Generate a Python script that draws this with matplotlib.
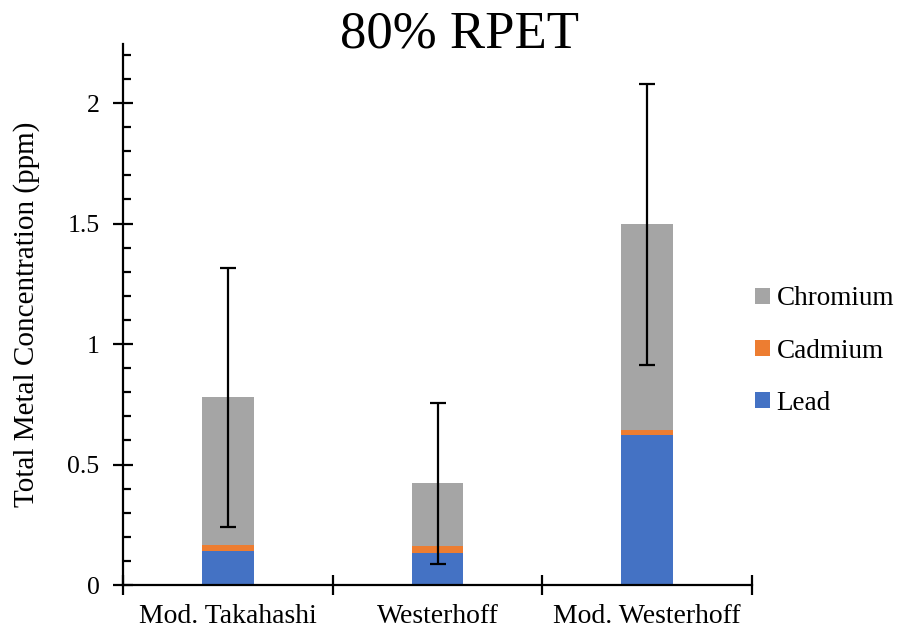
import matplotlib
matplotlib.use("Agg")
import matplotlib.pyplot as plt
import numpy as np
from matplotlib.ticker import MultipleLocator, FixedLocator

plt.rcParams['font.family'] = ['Liberation Serif', 'DejaVu Serif']

categories = ["Mod. Takahashi", "Westerhoff", "Mod. Westerhoff"]
lead = [0.142, 0.134, 0.622]
cadmium = [0.024, 0.026, 0.021]
chromium = [0.613, 0.262, 0.854]
error = [0.537, 0.333, 0.583]
title = "80% RPET"
ylabel = "Total Metal Concentration (ppm)"

c_lead = "#4472C4"
c_cd = "#ED7D31"
c_cr = "#A5A5A5"

fig = plt.figure(figsize=(9.02, 6.31), dpi=100)
ax = fig.add_axes([123/902, 1-585/631, (752-123)/902, (585-44)/631])

x = np.arange(len(categories))
lead_a = np.array(lead)
cd_a = np.array(cadmium)
cr_a = np.array(chromium)
w = 0.245
b1 = ax.bar(x, lead_a, w, color=c_lead, label="Lead", zorder=2)
b2 = ax.bar(x, cd_a, w, bottom=lead_a, color=c_cd, label="Cadmium", zorder=2)
b3 = ax.bar(x, cr_a, w, bottom=lead_a+cd_a, color=c_cr, label="Chromium", zorder=2)
total = lead_a + cd_a + cr_a
ax.errorbar(x, total, yerr=error, fmt='none', ecolor='black', elinewidth=1.6,
            capsize=5.5, capthick=1.6, zorder=3)

ax.set_xlim(-0.5, 2.5)
ax.set_ylim(0, 2.245)
for s in ['top', 'right']:
    ax.spines[s].set_visible(False)
for s in ['left', 'bottom']:
    ax.spines[s].set_linewidth(1.6)

ax.set_xticks(x)
ax.set_xticklabels(categories, fontsize=20)
ax.xaxis.set_minor_locator(FixedLocator([-0.5, 0.5, 1.5, 2.5]))
ax.tick_params(axis='x', which='major', direction='in', length=5, width=1.6, pad=14)
ax.tick_params(axis='x', which='minor', direction='inout', length=14, width=1.6)

yt = [0, 0.5, 1, 1.5, 2]
ax.set_yticks(yt)
ax.set_yticklabels(["0", "0.5", "1", "1.5", "2"], fontsize=18.5)
ax.yaxis.set_minor_locator(MultipleLocator(0.1))
ax.tick_params(axis='y', which='major', direction='inout', length=14, width=1.6, pad=10)
ax.tick_params(axis='y', which='minor', direction='in', length=6, width=1.6)

fig.text(460/902, 1-35/631, title, fontsize=38, ha='center', va='center')
fig.text(27/902, 1-314/631, ylabel, fontsize=21, rotation=90, ha='center', va='center')

leg = fig.legend(handles=[b3, b2, b1], labels=["Chromium", "Cadmium", "Lead"],
                 loc='center left', bbox_to_anchor=(744/902, 1-351/631),
                 frameon=False, fontsize=19.5, handlelength=0.55, handleheight=0.55,
                 handletextpad=0.25, labelspacing=1.0, borderaxespad=0)

fig.savefig("out.png", dpi=100)
